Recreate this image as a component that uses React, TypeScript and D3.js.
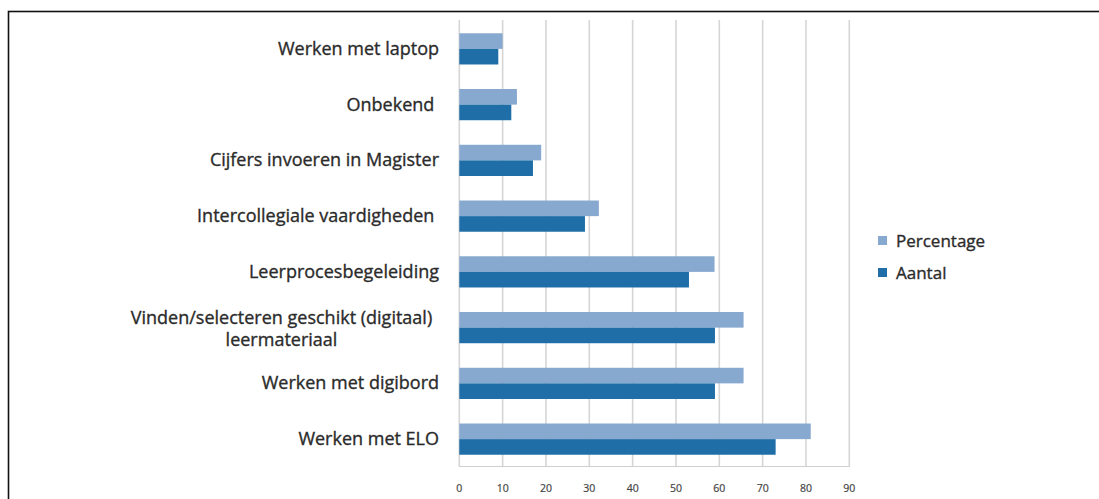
import React from "react";
import * as d3 from "d3";

const categories = [
  "Werken met laptop",
  "Onbekend ",
  "Cijfers invoeren in Magister",
  "Intercollegiale vaardigheden ",
  "Leerprocesbegeleiding",
  "Vinden/selecteren geschikt (digitaal)\nleermateriaal",
  "Werken met digibord",
  "Werken met ELO",
];
const percentage = [10.0, 13.3, 18.9, 32.2, 58.9, 65.6, 65.6, 81.1];
const aantal = [9, 12, 17, 29, 53, 59, 59, 73];
const ticks = [0, 10, 20, 30, 40, 50, 60, 70, 80, 90];
const seriesNames = ["Percentage", "Aantal"];
const colors = ["#87A8CF", "#1F6EA8"];

const W = 1099;
const H = 499;
const font = "'Open Sans', sans-serif";

export default function App() {
  const x = d3.scaleLinear().domain([0, 90]).range([459.3, 849.3]);
  const y = d3.scaleBand().domain(categories).range([21, 467]).paddingInner(0.44).paddingOuter(0.22);
  const bh = y.bandwidth() / 2;
  const txt = { fontFamily: font, fill: "#2b2b2b", stroke: "#2b2b2b", strokeWidth: 0.35 };
  return (
    <svg width={W} height={H} style={{ position: "absolute", left: 0, top: 0, background: "#fff" }}>
      <rect x={8.5} y={11.5} width={W + 20} height={H + 20} fill="#fff" stroke="#111" strokeWidth={1.6} />
      {ticks.map((t) => (
        <g key={t}>
          <line x1={x(t)} x2={x(t)} y1={20} y2={467} stroke="#d6d6d6" strokeWidth={1.6} />
          <text x={x(t)} y={492} textAnchor="middle" fontSize={10.5} {...txt} fill="#444" stroke="#444" strokeWidth={0.2}>
            {t}
          </text>
        </g>
      ))}
      <line x1={x(0)} x2={x(90)} y1={466.5} y2={466.5} stroke="#d0d0d0" strokeWidth={1.2} />
      {categories.map((c, i) => {
        const y0 = y(c)!;
        const lines = c.split("\n");
        const cy = y0 + bh;
        return (
          <g key={c}>
            <rect x={x(0)} y={y0} width={x(percentage[i]) - x(0)} height={bh} fill={colors[0]} />
            <rect x={x(0)} y={y0 + bh} width={x(aantal[i]) - x(0)} height={bh} fill={colors[1]} />
            {lines.length === 1 ? (
              <text x={439} y={cy + 6} textAnchor="end" fontSize={18} {...txt} style={{ whiteSpace: "pre" }}>
                {c}
              </text>
            ) : (
              lines.map((l, k) => (
                <text key={k} x={281.5} y={cy - 4 + k * 22} textAnchor="middle" fontSize={18} {...txt}>
                  {l}
                </text>
              ))
            )}
          </g>
        );
      })}
      {seriesNames.map((s, i) => (
        <g key={s}>
          <rect x={878} y={236 + i * 32} width={9} height={9} fill={colors[i]} />
          <text x={896} y={247 + i * 32} fontSize={17} {...txt}>
            {s}
          </text>
        </g>
      ))}
    </svg>
  );
}
